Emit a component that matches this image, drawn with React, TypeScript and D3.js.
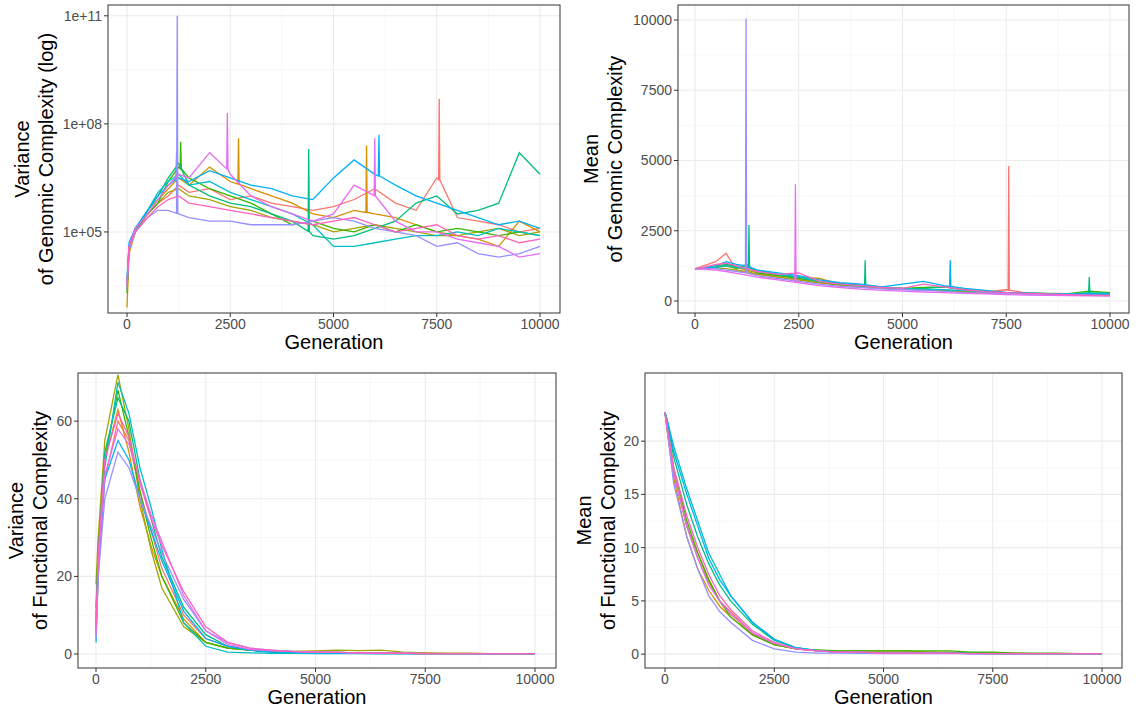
import * as d3 from "d3";

const colors = ["#F8766D", "#D89000", "#A3A500", "#39B600", "#00BF7D", "#00BFC4", "#00B0F6", "#9590FF", "#E76BF3", "#FF62BC"];
const generations = [0, 50, 200, 500, 750, 1000, 1250, 1500, 2000, 2500, 3000, 3500, 4000, 4500, 5000, 5500, 6000, 6500, 7000, 7500, 8000, 8500, 9000, 9500, 10000];

// log10 of variance of genomic complexity
const varGenomicLog = [
  [3.5, 4.5, 5.0, 5.5, 5.8, 6.0, 6.3, 6.1, 6.2, 5.9, 6.0, 5.8, 5.7, 5.6, 5.7, 5.9, 6.2, 5.8, 5.6, 6.5, 5.4, 5.3, 5.2, 5.0, 5.1],
  [2.9, 4.4, 5.0, 5.6, 5.9, 6.2, 6.5, 6.3, 6.8, 6.4, 6.2, 6.0, 5.8, 5.5, 5.4, 5.6, 5.5, 5.4, 5.2, 5.0, 4.9, 4.8, 4.6, 5.3, 5.0],
  [3.4, 4.5, 5.0, 5.5, 5.8, 6.1, 6.2, 6.0, 5.9, 5.7, 5.6, 5.4, 5.3, 5.2, 5.0, 5.1, 5.2, 5.1, 5.0, 4.9, 4.9, 5.0, 5.1, 4.9, 5.0],
  [3.3, 4.6, 5.1, 5.5, 5.8, 6.4, 6.8, 6.5, 6.2, 6.0, 5.8, 5.5, 5.2, 5.3, 5.1, 5.0, 5.2, 5.0, 5.2, 5.0, 5.1, 5.0, 4.9, 5.0, 4.9],
  [3.6, 4.6, 5.0, 5.6, 6.0, 6.5, 6.9, 6.3, 6.0, 5.8, 5.7, 5.5, 5.3, 4.9, 4.8, 4.9, 5.1, 5.3, 5.8, 6.0, 5.5, 5.6, 5.8, 7.2, 6.6],
  [3.5, 4.6, 5.1, 5.6, 6.1, 6.4, 6.6, 6.3, 6.4, 6.1, 5.9, 5.7, 5.5, 5.2, 4.6, 4.6, 4.7, 4.8, 4.9, 4.9, 5.0, 4.9, 5.1, 5.0, 4.9],
  [3.7, 4.7, 5.1, 5.6, 6.0, 6.3, 6.5, 6.4, 6.7, 6.5, 6.3, 6.2, 6.0, 5.9, 6.5, 7.0, 6.6, 6.3, 6.0, 5.8, 5.6, 5.4, 5.2, 5.3, 5.1],
  [3.4, 4.5, 5.0, 5.4, 5.6, 5.6, 5.5, 5.4, 5.3, 5.3, 5.2, 5.2, 5.2, 5.3, 5.4, 5.3, 5.1, 5.0, 4.9, 4.6, 4.7, 4.4, 4.3, 4.4, 4.6],
  [3.6, 4.6, 5.1, 5.5, 5.9, 6.3, 6.6, 6.5, 7.2, 6.6, 6.0, 5.7, 5.5, 5.3, 5.5, 6.3, 6.0, 5.3, 5.0, 5.0, 4.8, 4.7, 4.6, 4.3, 4.4],
  [3.5, 4.6, 5.0, 5.4, 5.7, 5.9, 6.0, 5.8, 5.7, 5.6, 5.5, 5.4, 5.3, 5.2, 5.3, 5.4, 5.2, 5.0, 5.1, 5.2, 4.9, 4.8, 4.9, 4.7, 4.8],
];
// spikes: [series, generation, log10 value]
const varGenomicSpikes = [[7, 1215, 11.0], [0, 7560, 8.7], [8, 2430, 8.3], [1, 2700, 7.6], [3, 1300, 7.5], [8, 6000, 7.6], [4, 4400, 7.3], [6, 6100, 7.7], [6, 1200, 7.2], [1, 5800, 7.4]];

const meanGenomic = [
  [1150, 1170, 1250, 1400, 1700, 1100, 1000, 950, 850, 750, 650, 580, 520, 480, 450, 420, 380, 350, 320, 400, 280, 260, 240, 230, 220],
  [1150, 1160, 1180, 1250, 1300, 1200, 1100, 1000, 900, 850, 800, 600, 500, 450, 420, 400, 380, 330, 300, 280, 260, 240, 230, 270, 220],
  [1150, 1150, 1160, 1180, 1150, 1100, 1050, 950, 850, 750, 650, 560, 500, 450, 420, 400, 370, 330, 300, 280, 260, 240, 230, 220, 210],
  [1150, 1150, 1160, 1200, 1250, 1150, 1300, 1000, 900, 800, 700, 600, 550, 500, 450, 480, 500, 400, 350, 300, 280, 270, 260, 350, 300],
  [1150, 1150, 1170, 1200, 1300, 1250, 1200, 1100, 950, 850, 700, 600, 550, 480, 420, 450, 500, 400, 320, 300, 280, 260, 250, 300, 280],
  [1150, 1150, 1160, 1200, 1250, 1200, 1150, 1050, 950, 850, 700, 620, 560, 500, 450, 420, 400, 370, 330, 300, 280, 260, 250, 240, 230],
  [1150, 1160, 1180, 1250, 1400, 1300, 1250, 1100, 1000, 900, 750, 650, 600, 500, 600, 700, 550, 450, 380, 300, 270, 250, 240, 260, 250],
  [1150, 1140, 1150, 1150, 1100, 1050, 1000, 900, 800, 700, 600, 520, 480, 430, 400, 380, 340, 300, 280, 260, 240, 220, 210, 200, 190],
  [1150, 1140, 1130, 1100, 1050, 980, 920, 850, 750, 650, 550, 480, 420, 380, 350, 320, 300, 270, 250, 230, 210, 200, 190, 180, 170],
  [1150, 1160, 1200, 1300, 1350, 1250, 1150, 1050, 950, 1000, 700, 600, 550, 480, 450, 600, 500, 400, 330, 300, 270, 250, 230, 210, 200],
];
const meanGenomicSpikes = [[7, 1230, 10050], [8, 2420, 4150], [0, 7560, 4800], [4, 1300, 2700], [4, 4100, 1450], [6, 6150, 1450], [4, 9500, 850]];

const varFunctional = [
  [5, 20, 45, 60, 55, 42, 32, 22, 10, 4, 2, 1, 0.6, 0.5, 0.4, 0.4, 0.3, 0.3, 0.2, 0.2, 0.1, 0.1, 0.1, 0.1, 0.1],
  [10, 28, 50, 63, 52, 38, 28, 20, 9, 3, 1.5, 1, 0.7, 0.5, 0.4, 0.3, 0.3, 0.2, 0.2, 0.1, 0.1, 0.1, 0.1, 0.1, 0.1],
  [18, 30, 55, 72, 58, 40, 27, 17, 7, 3, 1.5, 1, 0.8, 0.7, 0.8, 1, 0.9, 1, 0.5, 0.3, 0.2, 0.2, 0.1, 0.1, 0.1],
  [12, 27, 50, 68, 56, 42, 30, 20, 8, 3, 1.5, 1, 0.6, 0.5, 0.4, 0.4, 0.3, 0.2, 0.2, 0.1, 0.1, 0.1, 0.1, 0.1, 0.1],
  [8, 25, 52, 66, 60, 45, 35, 25, 12, 5, 2, 1, 0.5, 0.3, 0.3, 0.2, 0.2, 0.1, 0.1, 0.1, 0.1, 0.1, 0.1, 0.1, 0.1],
  [6, 24, 48, 70, 62, 48, 38, 27, 8, 2, 0.5, 0.3, 0.2, 0.2, 0.1, 0.1, 0.1, 0.1, 0.1, 0.1, 0.1, 0.1, 0.1, 0.1, 0.1],
  [3, 22, 45, 55, 50, 40, 32, 24, 11, 4, 2, 1, 0.5, 0.4, 0.3, 0.2, 0.2, 0.1, 0.1, 0.1, 0.1, 0.1, 0.1, 0.1, 0.1],
  [4, 20, 40, 52, 48, 40, 33, 26, 14, 6, 3, 1.5, 1, 0.7, 0.5, 0.4, 0.3, 0.2, 0.2, 0.1, 0.1, 0.1, 0.1, 0.1, 0.1],
  [5, 23, 46, 58, 54, 45, 36, 29, 15, 6, 2.5, 1.2, 0.8, 0.6, 0.5, 0.4, 0.3, 0.2, 0.2, 0.1, 0.1, 0.1, 0.1, 0.1, 0.1],
  [7, 26, 50, 62, 56, 44, 35, 28, 16, 7, 3, 1.5, 1, 0.6, 0.5, 0.4, 0.3, 0.2, 0.2, 0.1, 0.1, 0.1, 0.1, 0.1, 0.1],
];

const meanFunctional = [
  [22.7, 21, 17, 12, 9.5, 7, 5, 4, 2, 1, 0.5, 0.3, 0.2, 0.2, 0.2, 0.2, 0.2, 0.1, 0.1, 0.1, 0.05, 0.05, 0.05, 0.05, 0.05],
  [22.7, 21, 16.5, 11, 8, 6, 4.5, 3.5, 1.8, 0.9, 0.5, 0.3, 0.2, 0.2, 0.1, 0.1, 0.1, 0.1, 0.1, 0.05, 0.05, 0.05, 0.05, 0.05, 0.05],
  [22.7, 21.3, 17, 12, 9, 6.8, 5, 3.8, 1.9, 0.9, 0.5, 0.3, 0.3, 0.3, 0.3, 0.3, 0.2, 0.2, 0.1, 0.1, 0.1, 0.05, 0.05, 0.05, 0.05],
  [22.7, 21.5, 17.5, 12.5, 9.5, 7, 5, 3.5, 1.8, 0.9, 0.5, 0.4, 0.3, 0.3, 0.3, 0.3, 0.3, 0.3, 0.2, 0.2, 0.1, 0.1, 0.1, 0.05, 0.05],
  [22.7, 21.8, 18.5, 14, 11, 8.5, 6.5, 5, 2.8, 1.3, 0.6, 0.3, 0.2, 0.2, 0.1, 0.1, 0.1, 0.1, 0.1, 0.05, 0.05, 0.05, 0.05, 0.05, 0.05],
  [22.7, 22, 19.5, 15.5, 12.5, 9.5, 7.5, 5.5, 3, 1.4, 0.6, 0.3, 0.2, 0.1, 0.1, 0.1, 0.1, 0.1, 0.05, 0.05, 0.05, 0.05, 0.05, 0.05, 0.05],
  [22.7, 22, 19, 15, 12, 9, 7, 5.5, 3, 1.4, 0.6, 0.3, 0.2, 0.1, 0.1, 0.1, 0.1, 0.1, 0.05, 0.05, 0.05, 0.05, 0.05, 0.05, 0.05],
  [22.7, 21, 16, 11, 8, 5.5, 4, 3, 1.3, 0.5, 0.2, 0.1, 0.1, 0.1, 0.05, 0.05, 0.05, 0.05, 0.05, 0.05, 0.05, 0.05, 0.05, 0.05, 0.05],
  [22.7, 21.2, 17, 12, 9, 6.5, 5, 3.8, 2, 1, 0.5, 0.3, 0.2, 0.2, 0.1, 0.1, 0.1, 0.1, 0.05, 0.05, 0.05, 0.05, 0.05, 0.05, 0.05],
  [22.7, 21.4, 17.5, 13, 10, 7.5, 5.5, 4.2, 2.2, 1.1, 0.5, 0.3, 0.2, 0.2, 0.1, 0.1, 0.1, 0.1, 0.05, 0.05, 0.05, 0.05, 0.05, 0.05, 0.05],
];

const xTicks = [0, 2500, 5000, 7500, 10000];
const xMinor = [1250, 3750, 6250, 8750];

const font = "Liberation Sans, Arial, sans-serif";

type PanelProps = {
  left: number; top: number; right: number; bottom: number;
  x0: number; x1: number;
  y: d3.ScaleContinuousNumeric<number, number>;
  yTicks: number[]; yMinor: number[]; yFmt: (v: number) => string;
  series: number[][]; spikes?: number[][];
  title: string[]; titleX: number;
};

const Panel = (p: PanelProps) => {
  const x = d3.scaleLinear().domain([0, 10000]).range([p.x0, p.x1]);
  const line = d3.line<number[]>().x((d) => x(d[0])).y((d) => p.y(d[1]));
  const cy = (p.top + p.bottom) / 2;
  const cx = (p.left + p.right) / 2;
  return (
    <g>
      <clipPath id={`clip${p.left}${p.top}`}>
        <rect x={p.left} y={p.top} width={p.right - p.left} height={p.bottom - p.top} />
      </clipPath>
      {xMinor.map((t) => <line key={"xm" + t} x1={x(t)} x2={x(t)} y1={p.top} y2={p.bottom} stroke="#F2F2F2" strokeWidth={0.6} />)}
      {p.yMinor.map((t) => <line key={"ym" + t} y1={p.y(t)} y2={p.y(t)} x1={p.left} x2={p.right} stroke="#F2F2F2" strokeWidth={0.6} />)}
      {xTicks.map((t) => <line key={"xg" + t} x1={x(t)} x2={x(t)} y1={p.top} y2={p.bottom} stroke="#EBEBEB" strokeWidth={1.1} />)}
      {p.yTicks.map((t) => <line key={"yg" + t} y1={p.y(t)} y2={p.y(t)} x1={p.left} x2={p.right} stroke="#EBEBEB" strokeWidth={1.1} />)}
      <g clipPath={`url(#clip${p.left}${p.top})`}>
        {p.series.map((vals, i) => {
          const pts = generations.map((g, j) => [g, vals[j]]);
          (p.spikes || []).filter((s) => s[0] === i).forEach((s) => {
            const idx = pts.findIndex((q) => q[0] > s[1]);
            const prev = pts[idx - 1], next = pts[idx];
            const base = prev[1] + (next[1] - prev[1]) * (s[1] - prev[0]) / (next[0] - prev[0]);
            pts.splice(idx, 0, [s[1] - 15, base], [s[1], s[2]], [s[1] + 15, base]);
          });
          return <path key={i} d={line(pts) || ""} fill="none" stroke={colors[i]} strokeWidth={1.3} />;
        })}
      </g>
      <rect x={p.left} y={p.top} width={p.right - p.left} height={p.bottom - p.top} fill="none" stroke="#333333" strokeWidth={1} />
      {xTicks.map((t) => (
        <g key={"xt" + t}>
          <line x1={x(t)} x2={x(t)} y1={p.bottom} y2={p.bottom + 4} stroke="#333333" />
          <text x={x(t)} y={p.bottom + 16} textAnchor="middle" fontSize={14} fill="#4D4D4D">{t}</text>
        </g>
      ))}
      {p.yTicks.map((t) => (
        <g key={"yt" + t}>
          <line x1={p.left - 4} x2={p.left} y1={p.y(t)} y2={p.y(t)} stroke="#333333" />
          <text x={p.left - 6} y={p.y(t) + 5} textAnchor="end" fontSize={14} fill="#4D4D4D">{p.yFmt(t)}</text>
        </g>
      ))}
      <text x={cx} y={p.bottom + 36} textAnchor="middle" fontSize={20}>Generation</text>
      <text transform={`translate(${p.titleX},${cy}) rotate(-90)`} textAnchor="middle" fontSize={20}>
        <tspan x={0} dy={-24}>{p.title[0]}</tspan>
        <tspan x={0} dy={24}>{p.title[1]}</tspan>
      </text>
    </g>
  );
};

export default function App() {
  const yTL = d3.scaleLog().domain([10 ** 2.75, 10 ** 11.3]).range([313, 5]);
  const yTR = d3.scaleLinear().domain([-427, 10533]).range([313, 5]);
  const yBL = d3.scaleLinear().domain([-3.6, 72.4]).range([668, 373]);
  const yBR = d3.scaleLinear().domain([-1.3, 26.4]).range([668, 373]);
  return (
    <svg width={1136} height={711} style={{ position: "absolute", left: 0, top: 0, fontFamily: font }}>
      <rect width={1136} height={711} fill="white" />
      <Panel left={108} top={5} right={560} bottom={313} x0={127} x1={540} y={yTL}
        yTicks={[1e5, 1e8, 1e11]} yMinor={[10 ** 3.5, 10 ** 6.5, 10 ** 9.5]}
        yFmt={(v) => "1e+" + String(Math.round(Math.log10(v))).padStart(2, "0")}
        series={varGenomicLog.map((s) => s.map((v) => 10 ** v))}
        spikes={varGenomicSpikes.map((s) => [s[0], s[1], 10 ** s[2]])}
        title={["Variance", "of Genomic Complexity (log)"]} titleX={53} />
      <Panel left={678} top={5} right={1129} bottom={313} x0={695} x1={1110} y={yTR}
        yTicks={[0, 2500, 5000, 7500, 10000]} yMinor={[1250, 3750, 6250, 8750]} yFmt={(v) => String(v)}
        series={meanGenomic} spikes={meanGenomicSpikes}
        title={["Mean", "of Genomic Complexity"]} titleX={622} />
      <Panel left={78} top={373} right={556} bottom={668} x0={96} x1={535} y={yBL}
        yTicks={[0, 20, 40, 60]} yMinor={[10, 30, 50, 70]} yFmt={(v) => String(v)}
        series={varFunctional}
        title={["Variance", "of Functional Complexity"]} titleX={47} />
      <Panel left={645} top={373} right={1122} bottom={668} x0={665} x1={1102} y={yBR}
        yTicks={[0, 5, 10, 15, 20]} yMinor={[2.5, 7.5, 12.5, 17.5]} yFmt={(v) => String(v)}
        series={meanFunctional}
        title={["Mean", "of Functional Complexity"]} titleX={615} />
    </svg>
  );
}
